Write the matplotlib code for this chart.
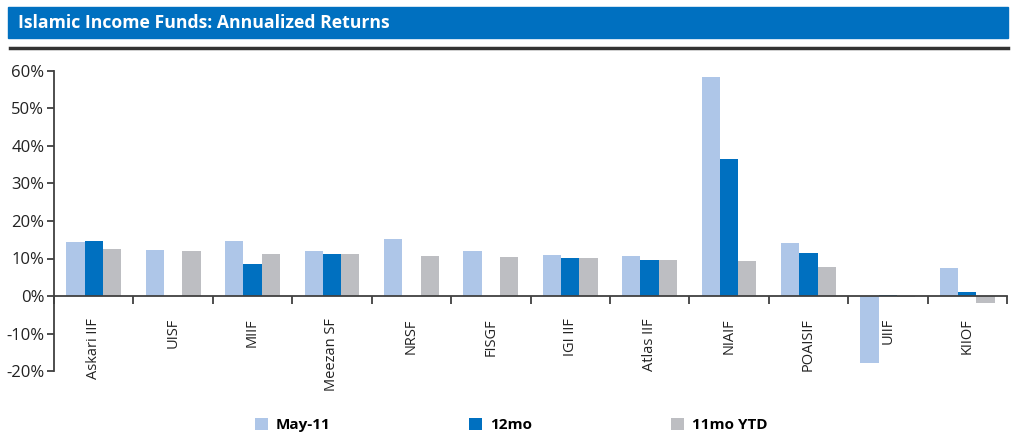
#!/usr/bin/env python3
''' Islamic Income Funds: annualized returns, grouped bars
'''

import numpy as np
import matplotlib
matplotlib.use('Agg')
from matplotlib import pyplot
from matplotlib.patches import Rectangle
from matplotlib.lines import Line2D

#
# data
#

funds = ['Askari IIF', 'UISF', 'MIIF', 'Meezan SF', 'NRSF', 'FISGF',
         'IGI IIF', 'Atlas IIF', 'NIAIF', 'POAISIF', 'UIIF', 'KIIOF']
may11 = [14.4, 12.3, 14.7, 12.0, 15.2, 12.0, 11.0, 10.7, 58.5, 14.1, -17.8, 7.5]
mo12 = [14.7, 0.0, 8.5, 11.2, 0.0, 0.0, 10.1, 9.6, 36.5, 11.5, 0.3, 1.1]
ytd11 = [12.5, 12.0, 11.2, 11.2, 10.7, 10.4, 10.1, 9.6, 9.3, 7.7, -0.2, -1.8]
series_names = ['May-11', '12mo', '11mo YTD']

colors = ['#AEC6E8', '#0070C0', '#BDBEC2']
font = 'Open Sans'

#
# plot
#

fig = pyplot.figure(figsize=(10.12, 4.46), dpi=100)

# title banner
fig.patches.append(Rectangle((8/1012, 1 - 38/446), 1000/1012, 31/446,
    transform=fig.transFigure, color='#0070C0', zorder=0))
fig.text(18/1012, 1 - 23/446, 'Islamic Income Funds: Annualized Returns',
    color='white', fontsize=12.7, fontweight='bold', family=font,
    va='center', ha='left')
fig.lines.append(Line2D([10/1012, 1008/1012], [1 - 48/446, 1 - 48/446],
    transform=fig.transFigure, color='#333333', lw=2.5))

ax = fig.add_axes([54/1012, 1 - 371/446, 953/1012, 300/446])

x = np.arange(len(funds))
w = 0.23
for i, (vals, c) in enumerate(zip([may11, mo12, ytd11], colors)):
    ax.bar(x + (i - 1) * w, vals, width=w, color=c, label=series_names[i],
        linewidth=0)

ax.set_xlim(-0.5, len(funds) - 0.5)
ax.set_ylim(-20, 60)
ax.set_yticks(np.arange(-20, 61, 10))
ax.set_yticklabels(['{}%'.format(v) for v in range(-20, 61, 10)],
    fontsize=12, family=font, color='#222222')

for s in ['top', 'right']:
    ax.spines[s].set_visible(False)
ax.spines['bottom'].set_position(('data', 0))
ax.spines['bottom'].set_color('#404040')
ax.spines['left'].set_color('#404040')
ax.spines['bottom'].set_linewidth(1.3)
ax.spines['left'].set_linewidth(1.3)

# boundary ticks, labels at centres
ax.set_xticks(np.arange(len(funds) + 1) - 0.5)
ax.set_xticklabels([])
ax.tick_params(axis='x', which='major', direction='out', length=6,
    width=1.3, color='#404040')
ax.set_xticks(x, minor=True)
ax.set_xticklabels(funds, minor=True, rotation=90, fontsize=10.5,
    family=font, color='#222222', va='top')
ax.tick_params(axis='x', which='minor', length=0, pad=16)
ax.tick_params(axis='y', direction='out', length=5, width=1.3,
    color='#404040', pad=2)

leg = fig.legend(loc='center', bbox_to_anchor=(0.505, 1 - 425/446), ncol=3,
    frameon=False, handlelength=0.85, handleheight=0.85, handletextpad=0.5,
    columnspacing=9.1, prop={'family': font, 'weight': 'bold', 'size': 11})

fig.savefig('out.png', dpi=100)
